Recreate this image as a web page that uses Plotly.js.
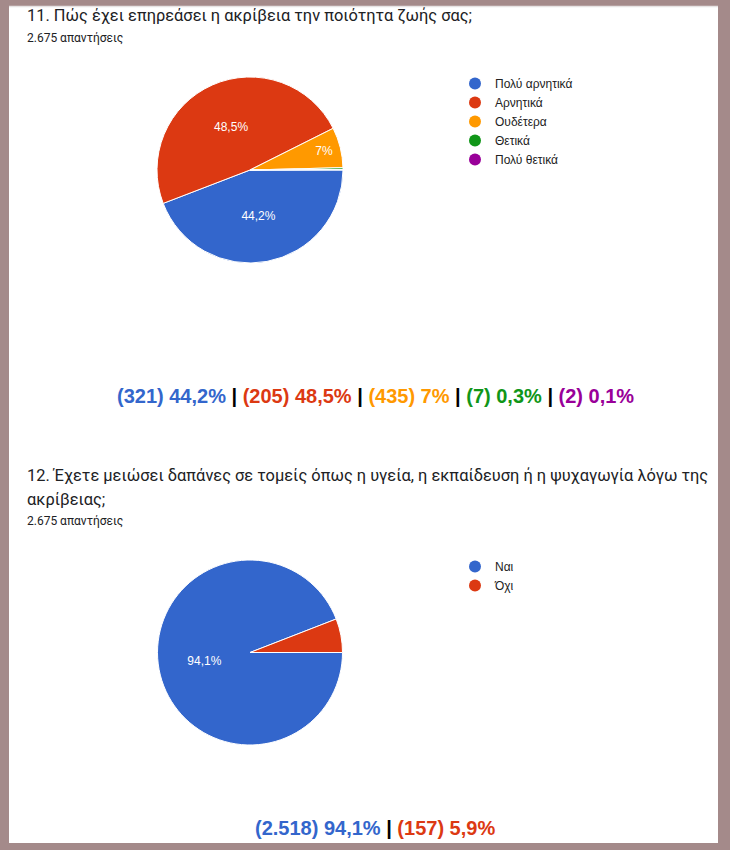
<!DOCTYPE html>
<html>
<head>
<meta charset="utf-8">
<script src="https://cdn.plot.ly/plotly-3.0.1.min.js"></script>
<style>
html,body{margin:0;padding:0;background:#a48a8a;}
#chart{width:730px;height:850px;}
</style>
</head>
<body>
<div id="chart"></div>
<script>
// ---- Data ----
const q1Title = '11. Πώς έχει επηρεάσει η ακρίβεια την ποιότητα ζωής σας;';
const q1Responses = '2.675 απαντήσεις';
const q1Labels = ['Πολύ αρνητικά', 'Αρνητικά', 'Ουδέτερα', 'Θετικά', 'Πολύ θετικά'];
const q1Percent = [44.2, 48.5, 7, 0.3, 0.1];
const q1SliceText = ['44,2%', '48,5%', '7%', '', ''];
const q1Counts = ['321', '205', '435', '7', '2'];
const q1PercentText = ['44,2%', '48,5%', '7%', '0,3%', '0,1%'];
const q1Colors = ['#3366cc', '#dc3912', '#ff9900', '#109618', '#990099'];

const q2TitleLine1 = '12. Έχετε μειώσει δαπάνες σε τομείς όπως η υγεία, η εκπαίδευση ή η ψυχαγωγία λόγω της';
const q2TitleLine2 = 'ακρίβειας;';
const q2Responses = '2.675 απαντήσεις';
const q2Labels = ['Ναι', 'Όχι'];
const q2Percent = [94.1, 5.9];
const q2SliceText = ['94,1%', ''];
const q2Counts = ['2.518', '157'];
const q2PercentText = ['94,1%', '5,9%'];
const q2Colors = ['#3366cc', '#dc3912'];

// ---- helpers (pixel -> paper) ----
const W = 730, H = 850;
const px = x => x / W;
const py = y => 1 - y / H;

function summary(counts, pcts, colors) {
  return counts.map((c, i) =>
    '<span style="color:' + colors[i] + '">(' + c + ') ' + pcts[i] + '</span>'
  ).join('<span style="color:#000000"> | </span>');
}

const pieCommon = {
  type: 'pie', sort: false, direction: 'clockwise', rotation: 90,
  textinfo: 'text', textposition: 'inside', hoverinfo: 'none',
  insidetextfont: {family: 'Arial, Liberation Sans, sans-serif', size: 12, color: '#ffffff'},
  showlegend: false
};

const traces = [
  Object.assign({}, pieCommon, {
    labels: q1Labels, values: q1Percent, text: q1SliceText,
    marker: {colors: q1Colors, line: {color: '#ffffff', width: 1}},
    domain: {x: [px(157), px(343)], y: [py(263), py(77)]}
  }),
  Object.assign({}, pieCommon, {
    labels: q2Labels, values: q2Percent, text: q2SliceText,
    marker: {colors: q2Colors, line: {color: '#ffffff', width: 1}},
    domain: {x: [px(157), px(343)], y: [py(745), py(560)]}
  })
];

// legend entries (circle symbols)
q1Labels.forEach((l, i) => traces.push({
  type: 'scatter', mode: 'markers', x: [null], y: [null], name: l,
  marker: {color: q1Colors[i], size: 12, symbol: 'circle'},
  legend: 'legend', hoverinfo: 'none'
}));
q2Labels.forEach((l, i) => traces.push({
  type: 'scatter', mode: 'markers', x: [null], y: [null], name: l,
  marker: {color: q2Colors[i], size: 12, symbol: 'circle'},
  legend: 'legend2', hoverinfo: 'none'
}));

const titleFont = {family: 'Roboto, Arial, sans-serif', size: 16.4, color: '#202124'};
const subFont = {family: 'Roboto, Arial, sans-serif', size: 12, color: '#202124'};
const sumFont = {family: 'Arial, Liberation Sans, sans-serif', size: 20, color: '#000000', weight: 'bold'};

const annotations = [
  {text: q1Title, x: px(25), y: py(16), xanchor: 'left', yanchor: 'middle', font: titleFont},
  {text: q1Responses, x: px(25), y: py(38), xanchor: 'left', yanchor: 'middle', font: subFont},
  {text: '<b>' + summary(q1Counts, q1PercentText, q1Colors) + '</b>', x: px(375), y: py(396), xanchor: 'center', yanchor: 'middle', font: sumFont},
  {text: q2TitleLine1, x: px(25), y: py(475), xanchor: 'left', yanchor: 'middle', font: titleFont},
  {text: q2TitleLine2, x: px(25), y: py(499), xanchor: 'left', yanchor: 'middle', font: titleFont},
  {text: q2Responses, x: px(25), y: py(521), xanchor: 'left', yanchor: 'middle', font: subFont},
  {text: '<b>' + summary(q2Counts, q2PercentText, q2Colors) + '</b>', x: px(375), y: py(828), xanchor: 'center', yanchor: 'middle', font: sumFont}
].map(a => Object.assign({xref: 'paper', yref: 'paper', showarrow: false}, a));

const legendFont = {family: 'Arial, Liberation Sans, sans-serif', size: 12, color: '#222222'};

const layout = {
  width: W, height: H,
  margin: {l: 0, r: 0, t: 0, b: 0},
  paper_bgcolor: '#a48a8a',
  plot_bgcolor: 'rgba(0,0,0,0)',
  xaxis: {visible: false, domain: [0, 0.01]},
  yaxis: {visible: false, domain: [0, 0.01]},
  shapes: [
    {type: 'rect', xref: 'paper', yref: 'paper', x0: px(9), x1: px(718), y0: py(843), y1: py(6),
     fillcolor: '#ffffff', line: {width: 0}, layer: 'below'},
    {type: 'line', xref: 'paper', yref: 'paper', x0: px(9), x1: px(718), y0: py(6.5), y1: py(6.5),
     line: {color: '#e6e3e3', width: 1.5}, layer: 'below'}
  ],
  annotations: annotations,
  legend: {x: px(455), y: py(69), xanchor: 'left', yanchor: 'top', font: legendFont,
           bgcolor: 'rgba(0,0,0,0)', itemclick: false, itemdoubleclick: false},
  legend2: {x: px(455), y: py(552), xanchor: 'left', yanchor: 'top', font: legendFont,
            bgcolor: 'rgba(0,0,0,0)', itemclick: false, itemdoubleclick: false},
  showlegend: true
};

Plotly.newPlot('chart', traces, layout, {staticPlot: true, displayModeBar: false});
</script>
</body>
</html>
